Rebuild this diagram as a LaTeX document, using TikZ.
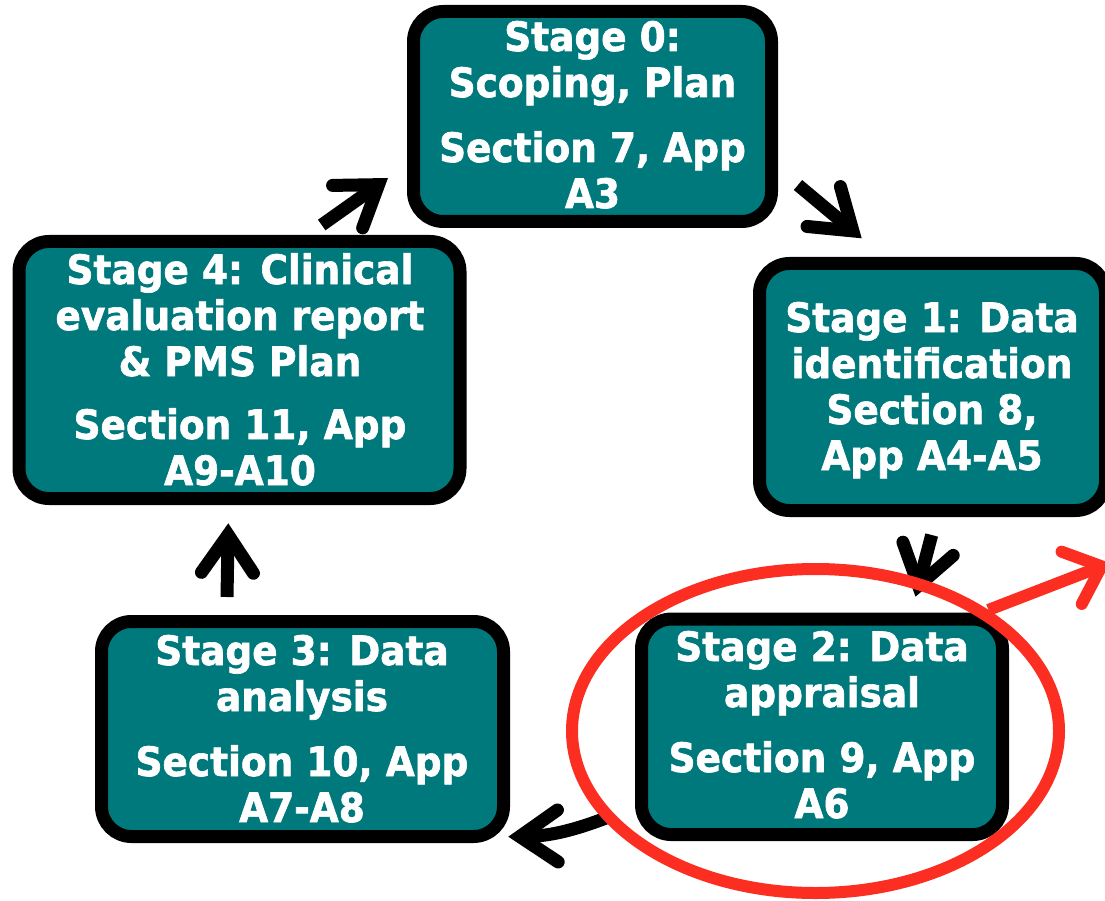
\documentclass[tikz,border=0pt]{standalone}
\usepackage{fontspec}
\usetikzlibrary{arrows.meta,shapes.geometric}
\newfontfamily\stagefont{DejaVu Sans}[FakeStretch=0.925, FakeBold=1.5]
\definecolor{stageteal}{RGB}{0,121,124}
\definecolor{markred}{RGB}{252,46,34}

\begin{document}
\begin{tikzpicture}[x=1pt,y=-1pt,
  stagebox/.style={draw=black, line width=13pt, fill=stageteal,
    rounded corners=30pt, inner sep=0pt},
  stagetext/.style={anchor=base, align=center, text=white, inner sep=0pt,
    font=\stagefont\bfseries\fontsize{40.5}{46}\selectfont},
  flowarrow/.style={draw=black, line width=13pt, line cap=butt,
    -{Straight Barb[length=38pt, width=52pt, line cap=round, line join=miter]}},
  redarrow/.style={draw=markred, line width=12pt, line cap=butt,
    -{Straight Barb[length=32pt, width=56pt, line cap=round, line join=miter]}},
  ring/.style={draw=markred, line width=12pt, ellipse, inner sep=0pt}
]
\useasboundingbox (0,0) rectangle (1105,901);

% stage boxes
\node[stagebox, minimum width=358pt, minimum height=210pt]   (b0) at (592.5,116.5) {};
\node[stagebox, minimum width=346pt, minimum height=247pt]   (b1) at (932.5,387) {};
\node[stagebox, minimum width=361pt, minimum height=215.5pt] (b2) at (822,726.8) {};
\node[stagebox, minimum width=402pt, minimum height=215pt]   (b3) at (302.5,729) {};
\node[stagebox, minimum width=441pt, minimum height=257pt]   (b4) at (239.5,370) {};

% stage labels, placed by the baseline of their last line
\node[stagetext] (t0) at (592.5,208) {Stage 0:\\Scoping, Plan\\[19pt]Section 7, App\\A3};
\node[stagetext] (t1) at (932,470)   {Stage 1: Data\\identification\\Section 8,\\App A4-A5};
\node[stagetext] (t2) at (822,818)   {Stage 2: Data\\appraisal\\[19pt]Section 9, App\\A6};
\node[stagetext] (t3) at (302,822)   {Stage 3: Data\\analysis\\[19pt]Section 10, App\\A7-A8};
\node[stagetext] (t4) at (240,485)   {Stage 4: Clinical\\evaluation report\\\& PMS Plan\\[17pt]Section 11, App\\A9-A10};

% arrow ends between the boxes
\coordinate (s40) at (321.7,225);  \coordinate (e40) at (388,178);
\coordinate (s01) at (798,185);    \coordinate (e01) at (861.7,238.3);
\coordinate (s12) at (931.7,535);  \coordinate (e12) at (915.5,596.7);
\coordinate (s23) at (606,818);    \coordinate (e23) at (508.3,836.7);
\coordinate (s34) at (227,597);    \coordinate (e34) at (228.3,523.3);

\draw[flowarrow] (s40) -- (e40);
\draw[flowarrow] (s01) -- (e01);
\draw[flowarrow] (s12) -- (e12);
\draw[flowarrow] (s23) to[bend left=10] (e23);
\draw[flowarrow] (s34) -- (e34);

% highlight ring round stage 2 and its pointer
\node[ring, minimum width=487pt, minimum height=324pt] (hl) at (815.5,731) {};
\coordinate (redtip) at (1110,563);
\draw[redarrow] (hl.35) -- (redtip);
\end{tikzpicture}
\end{document}
